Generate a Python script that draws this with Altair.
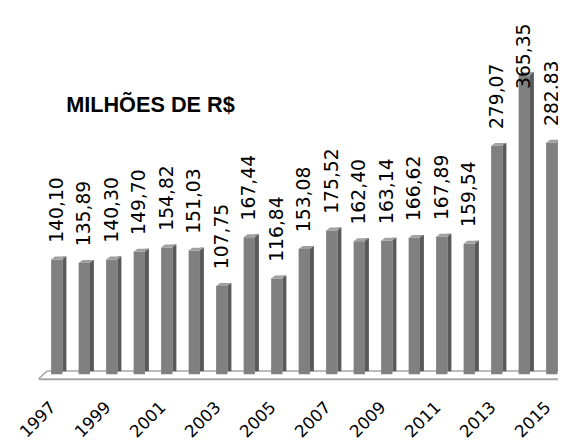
import altair as alt
import pandas as pd

# ---- data ----
years = list(range(1997, 2016))
values = [140.10, 135.89, 140.30, 149.70, 154.82, 151.03, 107.75, 167.44, 116.84,
          153.08, 175.52, 162.40, 163.14, 166.62, 167.89, 159.54, 279.07, 365.35, 282.83]
labels = ["140,10", "135,89", "140,30", "149,70", "154,82", "151,03", "107,75", "167,44",
          "116,84", "153,08", "175,52", "162,40", "163,14", "166,62", "167,89", "159,54",
          "279,07", "365,35", "282.83"]
tick_years = years[::2]
title_text = "MILHÕES DE R$"

df = pd.DataFrame({"year": years, "value": values, "label": labels})

# ---- layout / style ----
W, H = 527, 373
PX_YEAR = 27.9
X0 = 1997 - 18.5 / PX_YEAR
X1 = X0 + W / PX_YEAR
PX_UNIT = 0.83
Y0 = -(381 - 376.3) / PX_UNIT
Y1 = (376.3 - 8) / PX_UNIT
HALF = 5.75 / PX_YEAR
SIDE = 4 / PX_YEAR

xs = alt.Scale(domain=[X0, X1], nice=False, zero=False)
ys = alt.Scale(domain=[Y0, Y1], nice=False, zero=False)

xaxis = alt.Axis(values=tick_years, format="d", labelAngle=315, labelAlign="right",
                 labelBaseline="middle", labelFont="DejaVu Sans", labelFontSize=17,
                 labelColor="black", labelPadding=26, labelOffset=-4, ticks=False,
                 domainColor="#a6a6a6", domainWidth=2, grid=False, title=None,
                 labelOverlap=False, labelFlush=False, labelBound=False)

base = alt.Chart(df).transform_calculate(
    xl=f"datum.year - {HALF}",
    xr=f"datum.year + {HALF}",
    xside=f"datum.year + {HALF + SIDE}",
    lv=f"min(datum.value + {17 / PX_UNIT}, {(376.3 - 87) / PX_UNIT})",
)

back_line = alt.Chart(pd.DataFrame({"a": [0]})).mark_rule(
    color="#a6a6a6", strokeWidth=1.5, yOffset=-3.3
).encode(
    x=alt.X("x1:Q", scale=xs, axis=xaxis),
    x2="x2:Q",
    y=alt.Y("y1:Q", scale=ys, axis=None),
).transform_calculate(x1=f"{X0 + 9 / PX_YEAR}", x2=f"{X1}", y1="0")

diag = alt.Chart(pd.DataFrame({"a": [0]})).mark_rule(
    color="#a6a6a6", strokeWidth=1.5, y2Offset=-3.3
).encode(
    x=alt.X("x1:Q", scale=xs, axis=xaxis),
    x2="x2:Q",
    y=alt.Y("y1:Q", scale=ys, axis=None),
    y2="y2:Q",
).transform_calculate(x1=f"{X0}", x2=f"{X0 + 9 / PX_YEAR}", y1=f"{Y0}", y2="0")

front = base.mark_rect(color="#808080").encode(
    x=alt.X("xl:Q", scale=xs, axis=xaxis),
    x2="xr:Q",
    y=alt.Y("value:Q", scale=ys, axis=None),
    y2=alt.datum(0),
)

side = base.mark_rect(color="#595959", yOffset=-3, y2Offset=-3).encode(
    x=alt.X("xr:Q", scale=xs, axis=xaxis),
    x2="xside:Q",
    y=alt.Y("value:Q", scale=ys, axis=None),
    y2=alt.datum(0),
)

cap = base.mark_point(
    shape="M-1,0.1935L0.484,0.1935L1,-0.1935L-0.484,-0.1935Z",
    size=240, filled=True, color="#a0a0a0", opacity=1, strokeWidth=0,
    xOffset=2, yOffset=-1.5,
).encode(
    x=alt.X("year:Q", scale=xs, axis=xaxis),
    y=alt.Y("value:Q", scale=ys, axis=None),
)

text = base.mark_text(
    angle=270, align="left", baseline="middle", font="DejaVu Sans",
    fontSize=19, color="black",
).encode(
    x=alt.X("year:Q", scale=xs, axis=xaxis),
    y=alt.Y("lv:Q", scale=ys, axis=None),
    text="label:N",
)

title = alt.Chart(pd.DataFrame({"t": [title_text]})).mark_text(
    font="Liberation Sans", fontWeight="bold", fontSize=22, align="left",
    baseline="alphabetic", color="black",
).encode(text="t:N", x=alt.value(28), y=alt.value(102))

chart = alt.layer(back_line, diag, front, side, cap, text, title).properties(
    width=W, height=H,
    padding={"left": 31, "top": 0, "right": 0, "bottom": 66},
    autosize=alt.AutoSizeParams(type="none"),
).configure_view(strokeWidth=0)

chart.save("out.html", embed_options={"renderer": "svg", "actions": False})
